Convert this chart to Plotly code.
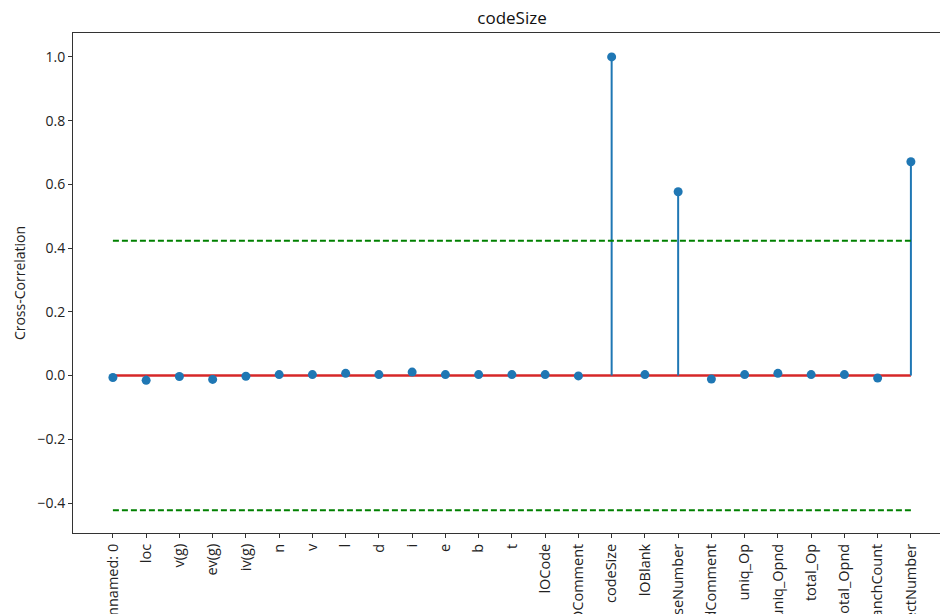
import plotly.graph_objects as go

# Feature names and their cross-correlation with codeSize
features = [
    "Unnamed: 0", "loc", "v(g)", "ev(g)", "iv(g)", "n", "v", "l", "d", "i",
    "e", "b", "t", "lOCode", "lOComment", "codeSize", "lOBlank", "caseNumber",
    "locCodeAndComment", "uniq_Op", "uniq_Opnd", "total_Op", "total_Opnd",
    "branchCount", "projectNumber",
]
correlation = [
    -0.006, -0.015, -0.003, -0.012, -0.002, 0.003, 0.003, 0.007, 0.003, 0.011,
    0.003, 0.003, 0.003, 0.003, -0.001, 1.0, 0.003, 0.577,
    -0.011, 0.003, 0.007, 0.003, 0.003, -0.008, 0.671,
]
# Significance band
threshold = 0.423

BLUE = "#1f77b4"
RED = "#d62728"
GREEN = "#008000"
FONT = "Open Sans"

xs = list(range(len(features)))

fig = go.Figure()

# Stem lines from the baseline to each value
stem_x, stem_y = [], []
for x, v in zip(xs, correlation):
    stem_x += [x, x, None]
    stem_y += [0, v, None]

# Baseline
fig.add_trace(go.Scatter(
    x=[xs[0], xs[-1]], y=[0, 0], mode="lines",
    line=dict(color=RED, width=2.5), hoverinfo="skip", showlegend=False,
))
fig.add_trace(go.Scatter(
    x=stem_x, y=stem_y, mode="lines",
    line=dict(color=BLUE, width=2), hoverinfo="skip", showlegend=False,
))
fig.add_trace(go.Scatter(
    x=xs, y=correlation, mode="markers",
    marker=dict(color=BLUE, size=9), showlegend=False,
))
# Threshold lines
for level in (threshold, -threshold):
    fig.add_trace(go.Scatter(
        x=[xs[0], xs[-1]], y=[level, level], mode="lines",
        line=dict(color=GREEN, width=2, dash="6px,3px"),
        hoverinfo="skip", showlegend=False,
    ))

fig.update_layout(
    width=940, height=614,
    margin=dict(l=73, r=0, t=33, b=81),
    plot_bgcolor="white", paper_bgcolor="white",
    font=dict(family=FONT, size=14, color="#222"),
    title=dict(text="codeSize", x=512 / 940, xanchor="center",
               y=1 - 18 / 614, yanchor="middle",
               font=dict(family=FONT, size=17, color="#111")),
)
fig.update_xaxes(
    range=[-1.2, -1.2 + 867 / 33.25],
    tickmode="array", tickvals=xs, ticktext=features, tickangle=-90,
    ticks="outside", ticklen=4, tickwidth=1, tickcolor="#333",
    showline=True, linecolor="#333", linewidth=1, mirror=True,
    showgrid=False, zeroline=False, automargin=False,
    tickfont=dict(family=FONT, size=14.5, color="#222"),
)
fig.update_yaxes(
    range=[-0.494, 1.075],
    tickmode="array", tickvals=[-0.4, -0.2, 0.0, 0.2, 0.4, 0.6, 0.8, 1.0],
    ticktext=["\u22120.4", "\u22120.2", "0.0", "0.2", "0.4", "0.6", "0.8", "1.0"],
    ticks="outside", ticklen=4, tickwidth=1, tickcolor="#333",
    showline=True, linecolor="#333", linewidth=1, mirror=False,
    showgrid=False, zeroline=False, automargin=False,
    title=dict(text="Cross-Correlation", standoff=8,
               font=dict(family=FONT, size=14, color="#222")),
    tickfont=dict(family=FONT, size=14, color="#222"),
)

fig.write_html("out.html")
